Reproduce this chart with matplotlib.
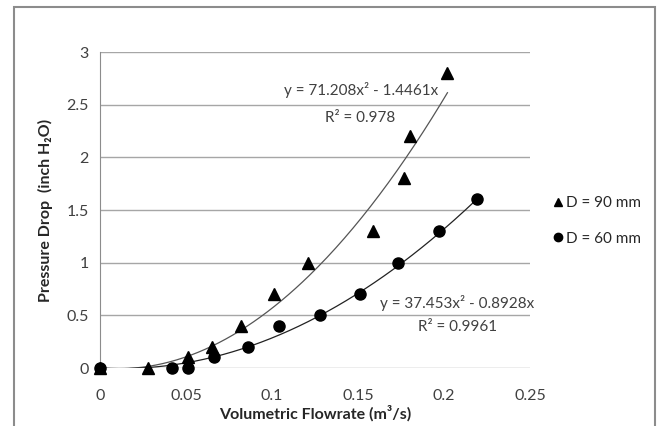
import numpy as np
import matplotlib
matplotlib.use("Agg")
import matplotlib.pyplot as plt
from matplotlib.lines import Line2D
from matplotlib.patches import Rectangle

plt.rcParams['font.family'] = ['Lato', 'DejaVu Sans']

# Data
x90 = [0.0, 0.028, 0.051, 0.065, 0.082, 0.101, 0.121, 0.159, 0.177, 0.180, 0.202]
y90 = [0.0, 0.0, 0.1, 0.2, 0.4, 0.7, 1.0, 1.3, 1.8, 2.2, 2.8]
x60 = [0.0, 0.042, 0.051, 0.066, 0.086, 0.104, 0.128, 0.151, 0.173, 0.197, 0.219]
y60 = [0.0, 0.0, 0.0, 0.1, 0.2, 0.4, 0.5, 0.7, 1.0, 1.3, 1.6]
coef90 = [71.208, -1.4461]
coef60 = [37.453, -0.8928]
xticks = [0, 0.05, 0.1, 0.15, 0.2, 0.25]
xticklabels = ['0', '0.05', '0.1', '0.15', '0.2', '0.25']
yticks = [0, 0.5, 1, 1.5, 2, 2.5, 3]
yticklabels = ['0', '0.5', '1', '1.5', '2', '2.5', '3']

W, H = 658, 426
fig = plt.figure(figsize=(W/100, H/100), dpi=100)
ax = fig.add_axes([100/W, 1-368/H, 430/W, 316/H])

# outer border (bottom edge lies below the picture)
fig.patches.append(Rectangle((14/W, -20/H), 641/W, 439/H, transform=fig.transFigure,
                             fill=False, edgecolor='#8c8c8c', lw=1.5))

ax.set_xlim(0, 0.25)
ax.set_ylim(0, 3)
ax.set_yticks(yticks)
ax.set_yticklabels(yticklabels)
ax.set_xticks(xticks)
ax.set_xticklabels(xticklabels)
ax.grid(axis='y', color='#a6a6a6', lw=1)
ax.set_axisbelow(True)
for s in ['top', 'right', 'bottom']:
    ax.spines[s].set_visible(False)
ax.spines['left'].set_color('#8c8c8c')
ax.tick_params(length=0, labelsize=11.5, colors='#404040', pad=8)
ax.tick_params(axis='x', pad=15)

# trendlines
xs = np.linspace(0, max(x90), 200)
ax.plot(xs, coef90[0]*xs**2 + coef90[1]*xs, color='#555555', lw=0.9, clip_on=True)
xs2 = np.linspace(0, max(x60), 200)
ax.plot(xs2, coef60[0]*xs2**2 + coef60[1]*xs2, color='#222222', lw=0.9, clip_on=True)

ax.plot(x90, y90, ls='none', marker='^', ms=8, color='black', clip_on=False, zorder=3)
ax.plot(x60, y60, ls='none', marker='o', ms=8, color='black', clip_on=False, zorder=4)

tk = dict(fontsize=11, color='#404040')
ax.text(0.1517, 2.64, 'y = 71.208x² - 1.4461x', ha='center', va='center', **tk)
ax.text(0.151, 2.37, 'R² = 0.978', ha='center', va='center', **tk)
ax.text(0.2075, 0.617, 'y = 37.453x² - 0.8928x', ha='center', va='center', **tk)
ax.text(0.2076, 0.39, 'R² = 0.9961', ha='center', va='center', **tk)

ax.set_xlabel('Volumetric Flowrate (m³/s)', fontsize=11.5, fontweight='bold', color='#262626', labelpad=2)
ax.set_ylabel('Pressure Drop  (inch H₂O)', fontsize=11.5, fontweight='bold', color='#262626', labelpad=10)

handles = [Line2D([], [], ls='none', marker='^', ms=6, color='black', label='D = 90 mm'),
           Line2D([], [], ls='none', marker='o', ms=6, color='black', label='D = 60 mm')]
fig.legend(handles=handles, loc='center left', bbox_to_anchor=(540/W, 1-221/H), frameon=False,
           fontsize=11, handlelength=0.6, handletextpad=0.2, labelspacing=1.4, labelcolor='#262626')

fig.savefig('out.png', dpi=100)
